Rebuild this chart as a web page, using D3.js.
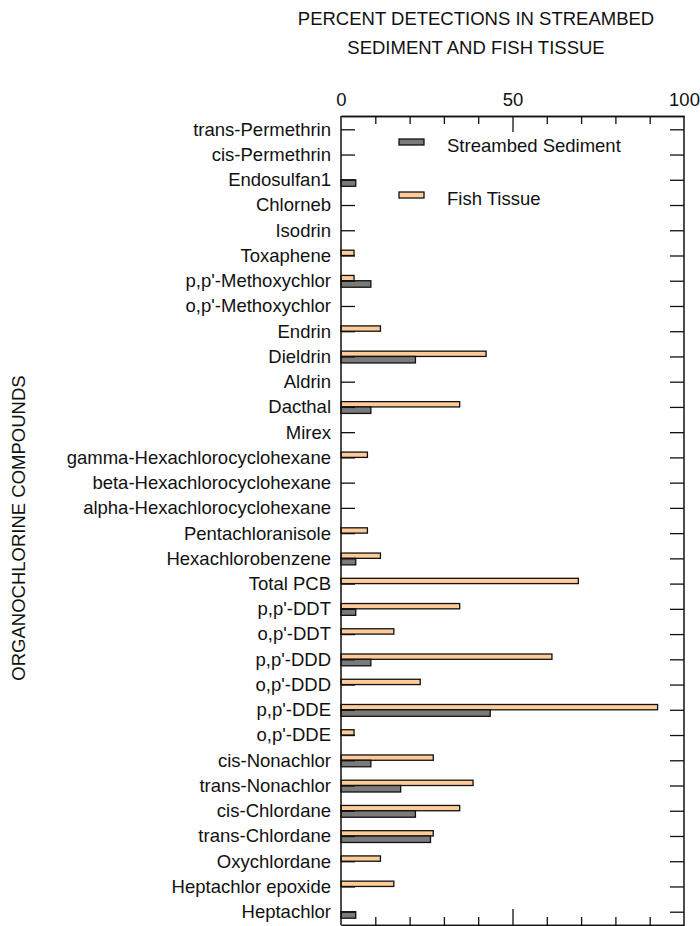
<!DOCTYPE html>
<html>
<head>
<meta charset="utf-8">
<script src="https://cdn.jsdelivr.net/npm/d3@7"></script>
<style>
  html, body { margin: 0; padding: 0; background: #fff; }
  svg { display: block; font-family: "Liberation Sans", Arial, Helvetica, sans-serif; }
</style>
</head>
<body>
<svg id="chart" width="700" height="926"></svg>
<script>
const categories = [
  "trans-Permethrin", "cis-Permethrin", "Endosulfan1", "Chlorneb", "Isodrin",
  "Toxaphene", "p,p'-Methoxychlor", "o,p'-Methoxychlor", "Endrin", "Dieldrin",
  "Aldrin", "Dacthal", "Mirex", "gamma-Hexachlorocyclohexane",
  "beta-Hexachlorocyclohexane", "alpha-Hexachlorocyclohexane", "Pentachloranisole",
  "Hexachlorobenzene", "Total PCB", "p,p'-DDT", "o,p'-DDT", "p,p'-DDD", "o,p'-DDD",
  "p,p'-DDE", "o,p'-DDE", "cis-Nonachlor", "trans-Nonachlor", "cis-Chlordane",
  "trans-Chlordane", "Oxychlordane", "Heptachlor epoxide", "Heptachlor"
];
const sediment = [
  0, 0, 4.3, 0, 0,
  0, 8.7, 0, 0, 21.7,
  0, 8.7, 0, 0,
  0, 0, 0,
  4.3, 0, 4.3, 0, 8.7, 0,
  43.5, 0, 8.7, 17.4, 21.7,
  26.1, 0, 0, 4.3
];
const fish = [
  0, 0, 0, 0, 0,
  3.8, 3.8, 0, 11.5, 42.3,
  0, 34.6, 0, 7.7,
  0, 0, 7.7,
  11.5, 69.2, 34.6, 15.4, 61.5, 23.1,
  92.3, 3.8, 26.9, 38.5, 34.6,
  26.9, 11.5, 15.4, 0
];
const seriesNames = ["Streambed Sediment", "Fish Tissue"];
const seriesColors = ["#7a7a7a", "#ffcc99"];
const majorTicks = [0, 50, 100];
const minorTicks = [10, 20, 30, 40, 60, 70, 80, 90];
const titleLines = ["PERCENT DETECTIONS IN STREAMBED", "SEDIMENT AND FISH TISSUE"];
const yTitle = "ORGANOCHLORINE COMPOUNDS";

const svg = d3.select("#chart");
const mLeft = 341, mRight = 684, mTop = 116, mBottom = 925;
const x = d3.scaleLinear().domain([0, 100]).range([mLeft, mRight]);
const y = d3.scalePoint().domain(categories).range([129.3, 911.7]);
const FS = 18.5;

// titles
svg.append("g").selectAll("text").data(titleLines).join("text")
  .attr("x", 476).attr("y", (d, i) => 25 + i * 28.5)
  .attr("text-anchor", "middle").attr("font-size", FS).attr("fill", "#111")
  .text(d => d);

svg.append("text")
  .attr("transform", "translate(25,528) rotate(-90)")
  .attr("text-anchor", "middle").attr("font-size", FS).attr("fill", "#111")
  .text(yTitle);

// bars
const data = categories.map((c, i) => ({ c, sed: sediment[i], fish: fish[i] }));
const bars = svg.append("g");
bars.selectAll("rect.fish").data(data.filter(d => d.fish > 0)).join("rect")
  .attr("class", "fish")
  .attr("x", x(0)).attr("y", d => y(d.c) - 5.3)
  .attr("width", d => x(d.fish) - x(0)).attr("height", 5.3)
  .attr("fill", seriesColors[1]).attr("stroke", "#111").attr("stroke-width", 1.3);
bars.selectAll("rect.sed").data(data.filter(d => d.sed > 0)).join("rect")
  .attr("class", "sed")
  .attr("x", x(0)).attr("y", d => y(d.c))
  .attr("width", d => x(d.sed) - x(0)).attr("height", 6.5)
  .attr("fill", seriesColors[0]).attr("stroke", "#111").attr("stroke-width", 1.3);

// axes
const axStyle = g => {
  g.selectAll("path").attr("stroke", "#111").attr("stroke-width", 1.5);
  g.selectAll("line").attr("stroke", "#111").attr("stroke-width", 1.3);
  g.selectAll("text").attr("font-size", FS).attr("fill", "#111")
    .attr("font-family", "Liberation Sans, Arial, sans-serif");
};
// top
svg.append("g").attr("transform", `translate(0,${mTop})`)
  .call(d3.axisTop(x).tickValues(minorTicks).tickSize(-8).tickSizeOuter(0).tickFormat(""))
  .call(axStyle);
svg.append("g").attr("transform", `translate(0,${mTop})`)
  .call(d3.axisTop(x).tickValues(majorTicks).tickSize(-16).tickSizeOuter(0).tickPadding(10).tickFormat(d3.format("d")))
  .call(axStyle)
  .call(g => g.selectAll(".tick line").filter(d => d === 0 || d === 100).remove());
// bottom
svg.append("g").attr("transform", `translate(0,${mBottom})`)
  .call(d3.axisBottom(x).tickValues(minorTicks).tickSize(-8).tickSizeOuter(0).tickFormat(""))
  .call(axStyle);
svg.append("g").attr("transform", `translate(0,${mBottom})`)
  .call(d3.axisBottom(x).tickValues([50]).tickSize(-16).tickSizeOuter(0).tickFormat(""))
  .call(axStyle);
// left
const yl = svg.append("g").attr("transform", `translate(${mLeft},0)`)
  .call(d3.axisLeft(y).tickSize(-14).tickSizeOuter(0).tickPadding(10))
  .call(axStyle);
yl.select("path").attr("d", `M0,${mTop}V${mBottom}`);
// right
const yr = svg.append("g").attr("transform", `translate(${mRight},0)`)
  .call(d3.axisRight(y).tickSize(-14).tickSizeOuter(0).tickFormat(""))
  .call(axStyle);
yr.select("path").attr("d", `M0,${mTop}V${mBottom}`);

// legend
const legend = svg.append("g");
const legY = [142, 195];
seriesNames.forEach((name, i) => {
  legend.append("rect").attr("x", 399).attr("y", legY[i] - 3).attr("width", 25).attr("height", 6)
    .attr("fill", seriesColors[i]).attr("stroke", "#111").attr("stroke-width", 1.3);
  legend.append("text").attr("x", 447).attr("y", legY[i] + 10)
    .attr("font-size", FS).attr("fill", "#111").text(name);
});
</script>
</body>
</html>
